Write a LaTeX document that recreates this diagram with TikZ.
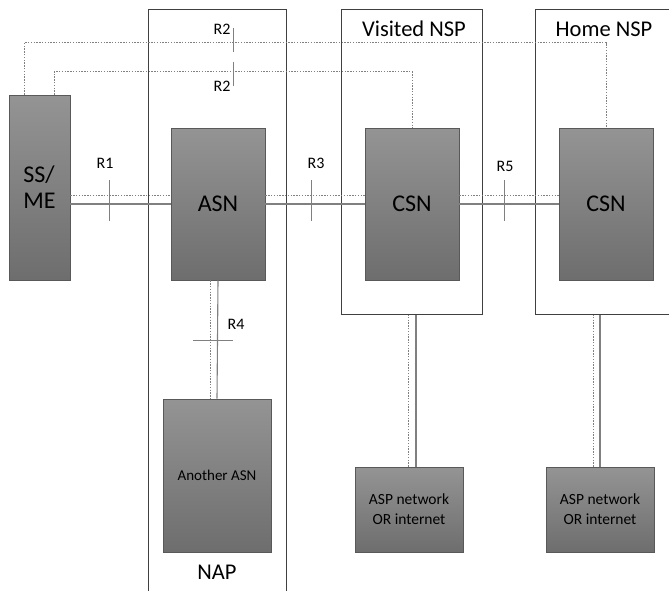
\documentclass[tikz,border=0pt]{standalone}
\usepackage{fontspec}
\setmainfont{Carlito}
\usetikzlibrary{calc}

\tikzset{
  opbox/.style={draw=black!75, line width=1pt, inner sep=0pt},
  entity/.style={draw=black!65, line width=0.8pt, top color=black!42, bottom color=black!57,
               inner sep=0pt, align=center},
  bearer/.style={draw=black!50, line width=1.1pt},
  ctrlpath/.style={draw=black!50, line width=1pt, dash pattern=on 1.4pt off 1.4pt},
  refmark/.style={draw=black!50, line width=0.8pt},
  reflabel/.style={inner sep=1pt, font=\fontsize{16}{18}\selectfont},
  boxtitle/.style={inner sep=1pt, font=\fontsize{22.5}{24}\selectfont},
}

\begin{document}
\begin{tikzpicture}[x=1pt,y=-1pt]
	\useasboundingbox (0,0) rectangle (669,590);
	% operator domains
	\node[opbox, minimum width=138pt, minimum height=591pt] (nap) at (217,304.5) {};
	\node[opbox, minimum width=141pt, minimum height=305pt] (vnsp) at (411.5,161.5) {};
	\node[opbox, minimum width=165pt, minimum height=305pt] (hnsp) at (617.5,161.5) {};
	\node[boxtitle] (napname) at (217,572) {NAP};
	\node[boxtitle] (vnspname) at (414,29) {Visited NSP};
	\node[boxtitle] (hnspname) at (604,29) {Home NSP};
	% functional entities
	\node[entity, align=left, minimum width=61pt, minimum height=185pt,
	      font=\fontsize{24}{26}\selectfont] (ssme) at (39.5,187.5) {SS/\\ME};
	\node[entity, minimum width=94pt, minimum height=152pt,
	      font=\fontsize{24}{26}\selectfont] (asn) at (218,204) {ASN};
	\node[entity, minimum width=94pt, minimum height=152pt,
	      font=\fontsize{24}{26}\selectfont] (vcsn) at (412,204) {CSN};
	\node[entity, minimum width=94pt, minimum height=152pt,
	      font=\fontsize{24}{26}\selectfont] (hcsn) at (606,204) {CSN};
	\node[entity, minimum width=108pt, minimum height=153pt,
	      font=\fontsize{15}{17}\selectfont] (anasn) at (217,475.5) {Another ASN};
	\node[entity, minimum width=108pt, minimum height=85pt,
	      font=\fontsize{15.5}{20}\selectfont] (asp1) at (409,509.5) {ASP network\\OR internet};
	\node[entity, minimum width=108pt, minimum height=85pt,
	      font=\fontsize{15.5}{20}\selectfont] (asp2) at (600,509.5) {ASP network\\OR internet};
	% bearer (solid) and control (dotted) paths
	\draw[bearer] (ssme.east |- asn.west) -- (asn.west);
	\draw[ctrlpath] ([yshift=9pt]ssme.east |- asn.west) -- ([yshift=9pt]asn.west);
	\draw[bearer] (asn.east) -- (vcsn.west);
	\draw[ctrlpath] ([yshift=9pt]asn.east) -- ([yshift=9pt]vcsn.west);
	\draw[bearer] (vcsn.east) -- (hcsn.west);
	\draw[ctrlpath] ([yshift=9pt]vcsn.east) -- ([yshift=9pt]hcsn.west);
	\draw[bearer] (asn.south) -- (anasn.north);
	\draw[ctrlpath] ([xshift=-8pt]asn.south) -- ([xshift=-8pt]asn.south |- anasn.north);
	\draw[bearer] ([xshift=7pt]asp1.north) -- ([xshift=7pt]asp1.north |- vnsp.south);
	\draw[ctrlpath] ([xshift=-1pt]asp1.north) -- ([xshift=-1pt]asp1.north |- vnsp.south);
	\draw[bearer] (asp2.north) -- (asp2.north |- hnsp.south);
	\draw[ctrlpath] ([xshift=-7pt]asp2.north) -- ([xshift=-7pt]asp2.north |- hnsp.south);
	% R2 goes from the terminal straight to both CSNs
	\draw[ctrlpath] ([xshift=-15.5pt]ssme.north) -- ++(0,-52) -| (hcsn.north);
	\draw[ctrlpath] ([xshift=14.5pt]ssme.north) -- ++(0,-23) -| (vcsn.north);
	% reference points
	\draw[refmark] (109,180) -- (109,221);
	\draw[refmark] (311,180) -- (311,221);
	\draw[refmark] (504,180) -- (504,221);
	\draw[refmark] (233,28) -- (233,52);
	\draw[refmark] (233,62) -- (233,86);
	\draw[refmark] (193,340) -- (233,340);
	\node[reflabel] (r1) at (105,163) {R1};
	\node[reflabel] (r3) at (316,163) {R3};
	\node[reflabel] (r5) at (505,166) {R5};
	\node[reflabel] (r2a) at (222,29) {R2};
	\node[reflabel] (r2b) at (222,86) {R2};
	\node[reflabel] (r4) at (236,324) {R4};
\end{tikzpicture}
\end{document}
